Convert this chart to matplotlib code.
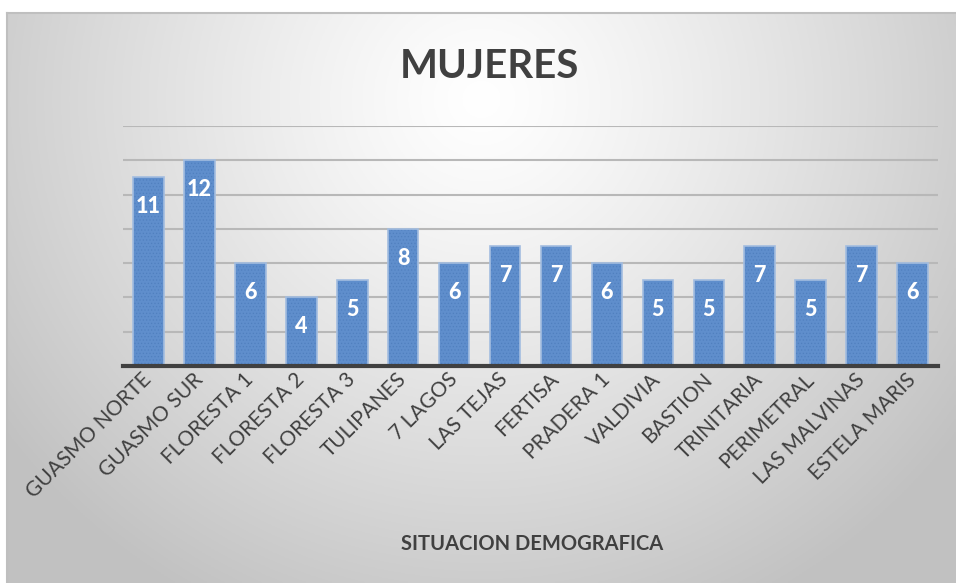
import numpy as np
import matplotlib.pyplot as plt

# barrios y numero de mujeres
barrios = ["GUASMO NORTE", "GUASMO SUR", "FLORESTA 1", "FLORESTA 2", "FLORESTA 3",
           "TULIPANES", "7 LAGOS", "LAS TEJAS", "FERTISA", "PRADERA 1", "VALDIVIA",
           "BASTION", "TRINITARIA", "PERIMETRAL", "LAS MALVINAS", "ESTELA MARIS"]
mujeres = [11, 12, 6, 4, 5, 8, 6, 7, 7, 6, 5, 5, 7, 5, 7, 6]
y_ticks = [0, 2, 4, 6, 8, 10, 12, 14]

W, H = 956, 583
FONT = ["Lato", "DejaVu Sans"]
TXT = "#404040"


def main():
    plt.rcParams["font.family"] = FONT
    plt.rcParams["hatch.linewidth"] = 0.5

    fig = plt.figure(figsize=(W / 100, H / 100), dpi=100)
    fig.patch.set_facecolor("white")

    # fondo con degradado radial
    bg = fig.add_axes([7 / W, 0, 1 - 7 / W, 1 - 13 / H])
    gx, gy = np.meshgrid(np.linspace(0, 1, 400), np.linspace(0, 1, 250))
    r = np.sqrt(((gx - 0.5) * 1.0) ** 2 + ((gy - 0.15) * 0.62) ** 2) / 0.62
    r = np.clip(r, 0, 1)
    shade = 1.0 - 0.24 * r ** 1.2
    bg.imshow(np.dstack([shade] * 3), aspect="auto", extent=[0, 1, 1, 0])
    bg.set_xlim(0, 1)
    bg.set_ylim(1, 0)
    bg.set_xticks([])
    bg.set_yticks([])
    for s in ["right", "bottom"]:
        bg.spines[s].set_visible(False)
    for s in ["top", "left"]:
        bg.spines[s].set_color("#bfbfbf")
        bg.spines[s].set_linewidth(1.5)

    ax = fig.add_axes([123 / W, 1 - 366 / H, (938 - 123) / W, (366 - 126) / H])
    ax.patch.set_alpha(0)
    x = np.arange(len(barrios))
    bars = ax.bar(x, mujeres, width=0.6, color="#5f8ecc", edgecolor="#5080bf",
                  linewidth=0, hatch=".....", zorder=3)
    ax.bar(x, mujeres, width=0.6, fill=False, edgecolor="#a3bde0",
           linewidth=1.2, zorder=3)
    ax.set_xlim(-0.5, len(barrios) - 0.5)
    ax.set_ylim(0, 14)
    ax.set_yticks(y_ticks)
    ax.yaxis.grid(True, color="#b8b8b8", linewidth=1.5, zorder=0)
    ax.set_axisbelow(True)
    ax.tick_params(axis="y", left=False, labelleft=False)
    ax.tick_params(axis="x", bottom=False, pad=4)
    for s in ["top", "right", "left"]:
        ax.spines[s].set_visible(False)
    ax.spines["bottom"].set_color("#404040")
    ax.spines["bottom"].set_linewidth(3)
    ax.spines["bottom"].set_zorder(4)

    ax.set_xticks(x)
    ax.set_xticklabels(barrios, rotation=45, ha="right", va="center",
                       rotation_mode="anchor", fontsize=15, color=TXT)

    for b, v in zip(bars, mujeres):
        ax.text(b.get_x() + b.get_width() / 2, v - 1.1, str(v), ha="center", va="top",
                color="white", fontsize=15.5, fontweight="black", zorder=5)

    fig.text(489 / W, 1 - 66 / H, "MUJERES", ha="center", va="center",
             fontsize=29, fontweight="bold", color=TXT)
    fig.text(532 / W, 1 - 544 / H, "SITUACION DEMOGRAFICA", ha="center", va="center",
             fontsize=14.5, fontweight="bold", color=TXT)

    fig.savefig("out.png", dpi=100)
    plt.close(fig)


if __name__ == "__main__":
    main()
